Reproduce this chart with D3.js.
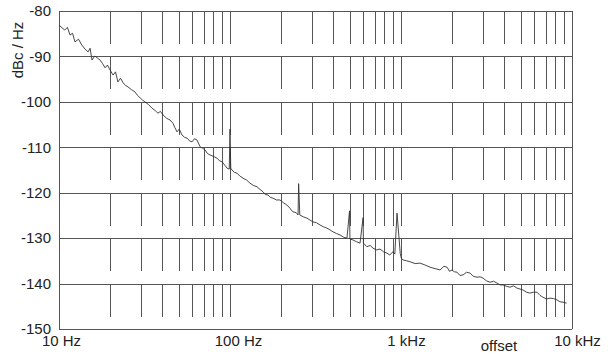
<!DOCTYPE html>
<html><head><meta charset="utf-8">
<script src="https://cdn.jsdelivr.net/npm/d3@7"></script>
<style>body{margin:0;background:#fff}svg{display:block}text{font-family:"Liberation Sans",Arial,sans-serif;fill:#222}</style>
</head><body>
<script>
// data (offset frequency in Hz, phase noise in dBc/Hz)
const freqs = [10,10.8,11.2,11.6,12.0,12.4,13.0,13.6,14.2,14.8,15.2,15.6,16.2,16.7,17.4,18.0,18.6,19.2,19.9,20.7,21.4,22.1,22.9,23.7,24.5,25.3,26.5,27.8,28.8,29.8,30.8,31.8,33.4,35.0,36.5,37.9,39.2,40.6,42.5,44.6,46.4,47.5,49.0,50.5,52.4,54.2,56.1,58.0,60.0,62.0,64.1,66.9,69.0,71.5,74.0,76.5,80.0,84.0,87.0,89.9,93.0,96.1,99.0,100,101,102.7,106,109.9,114,119.2,125,130.9,137,143.9,150,156,161,166.8,172,178.3,187,196,205,215,224,233,244,250,252,256,268,282,293,305,320,336,352,369,385,400,420,440,462,483,500,503,524,550,576,600,603,632,660,686,720,754,790,828,860,898,920,948,990,1000,1002,1028,1080,1130,1210,1292,1380,1479,1580,1692,1780,1860,1920,1988,2050,2126,2210,2305,2420,2534,2650,2783,2900,3020,3160,3314,3480,3642,3800,3947,4140,4339,4550,4769,4960,5167,5420,5679,5950,6242,6500,6763,7100,7433,7800,8170,8500,8852,9300,9730,10000];
const dbc = [-83.1,-84.2,-83.6,-85.3,-84.9,-86.8,-86.2,-87.5,-88.4,-89.0,-88.2,-90.8,-89.9,-90.3,-90.8,-91.6,-92.5,-91.9,-93.0,-94.1,-93.4,-95.6,-94.8,-95.8,-96.4,-96.7,-97.3,-97.8,-98.6,-99.1,-99.6,-100.0,-100.6,-101.4,-101.9,-102.5,-102.1,-102.9,-103.6,-104.0,-104.7,-105.6,-106.6,-106.0,-107.3,-107.8,-108.0,-108.6,-108.8,-108.1,-108.4,-109.9,-110.2,-110.6,-111.4,-111.7,-112.0,-112.4,-113.0,-113.2,-113.9,-114.6,-114.8,-106,-114.6,-115.0,-115.5,-115.7,-116.3,-116.8,-117.2,-117.9,-118.4,-118.7,-119.3,-119.8,-120.4,-120.5,-121.0,-121.2,-121.6,-121.6,-122.2,-122.7,-123.4,-124.2,-124.4,-124.9,-118.0,-124.9,-125.3,-125.6,-126.0,-126.4,-126.6,-127.1,-127.5,-127.8,-128.2,-128.6,-129.0,-129.3,-129.8,-130.0,-124.0,-130.2,-130.4,-130.8,-131.1,-125.5,-131.1,-131.9,-131.6,-132.2,-132.6,-132.4,-133.0,-133.3,-133.7,-133.0,-133.5,-124.5,-133.4,-134.1,-134.4,-134.8,-135.0,-135.2,-135.6,-135.5,-135.9,-136.4,-136.7,-137.0,-136.2,-136.4,-137.3,-137.0,-137.4,-137.5,-138.2,-138.1,-137.5,-137.7,-138.4,-138.6,-138.5,-138.8,-139.4,-139.7,-139.5,-139.9,-140.3,-140.3,-140.6,-140.8,-140.5,-141.0,-141.2,-141.4,-141.9,-142.1,-141.9,-141.9,-142.6,-143.0,-143.4,-143.2,-143.3,-143.6,-144.0,-144.1,-144.3];
const xTickValues = [10,100,1000,10000];
const xTickLabels = ["10 Hz","100 Hz","1 kHz","10 kHz"];
const yTickValues = [-80,-90,-100,-110,-120,-130,-140,-150];

const W = 611, H = 354;
const svg = d3.select("body").append("svg").attr("width", W).attr("height", H);
const x = d3.scaleLog().domain([10,10000]).range([59,572]);
const y = d3.scaleLinear().domain([-150,-80]).range([329,11]);

// minor + major vertical grid
const vgrid = [];
for (let d = 10; d < 10000; d *= 10) for (let k = 1; k <= 9; k++) vgrid.push(d*k);
vgrid.push(10000);
const grid = svg.append("g").attr("stroke", "#555").attr("stroke-width", 1).attr("shape-rendering","crispEdges");
grid.selectAll("line.v").data(vgrid).join("line").attr("class","v")
  .attr("x1", d => Math.round(x(d))+0.5).attr("x2", d => Math.round(x(d))+0.5)
  .attr("y1", y(-80)).attr("y2", y(-150))
  .attr("stroke-dasharray", (d,i) => (i === 0 || d === 10000) ? null : "33,12.43");
grid.selectAll("line.h").data(yTickValues).join("line").attr("class","h")
  .attr("x1", x(10)).attr("x2", x(10000))
  .attr("y1", d => Math.round(y(d))+0.5).attr("y2", d => Math.round(y(d))+0.5);

// y tick labels via axis
const yAxis = d3.axisLeft(y).tickValues(yTickValues).tickSize(0).tickPadding(8).tickFormat(d => String(d));
const ga = svg.append("g").attr("transform", `translate(${x(10)},0)`).call(yAxis);
ga.select(".domain").remove();
ga.selectAll("text").style("font-size","15px").style("font-family","'Liberation Sans',Arial,sans-serif").attr("fill","#222");

// x tick labels
const xAxis = d3.axisBottom(x).tickValues(xTickValues).tickSize(0).tickPadding(0).tickFormat((d,i) => xTickLabels[i]);
const gx = svg.append("g").attr("transform", `translate(0,${y(-150)})`).call(xAxis);
gx.select(".domain").remove();
gx.selectAll("text").attr("y", 17).attr("dy", 0).attr("dx", (d,i)=> [2,8,5,5][i])
  .style("font-size","15px").style("font-family","'Liberation Sans',Arial,sans-serif").attr("fill","#222");

svg.append("text").attr("x", 499).attr("y", 351).attr("text-anchor","middle").style("font-size","15px").text("offset");
svg.append("text").attr("transform","translate(23,50) rotate(-90)").attr("text-anchor","middle").style("font-size","15px").text("dBc / Hz");

// trace
const line = d3.line().x((d,i) => x(freqs[i])).y(d => y(d));
svg.append("path").datum(dbc).attr("d", line).attr("fill","none").attr("stroke","#333").attr("stroke-width",0.9);
</script>
</body></html>
